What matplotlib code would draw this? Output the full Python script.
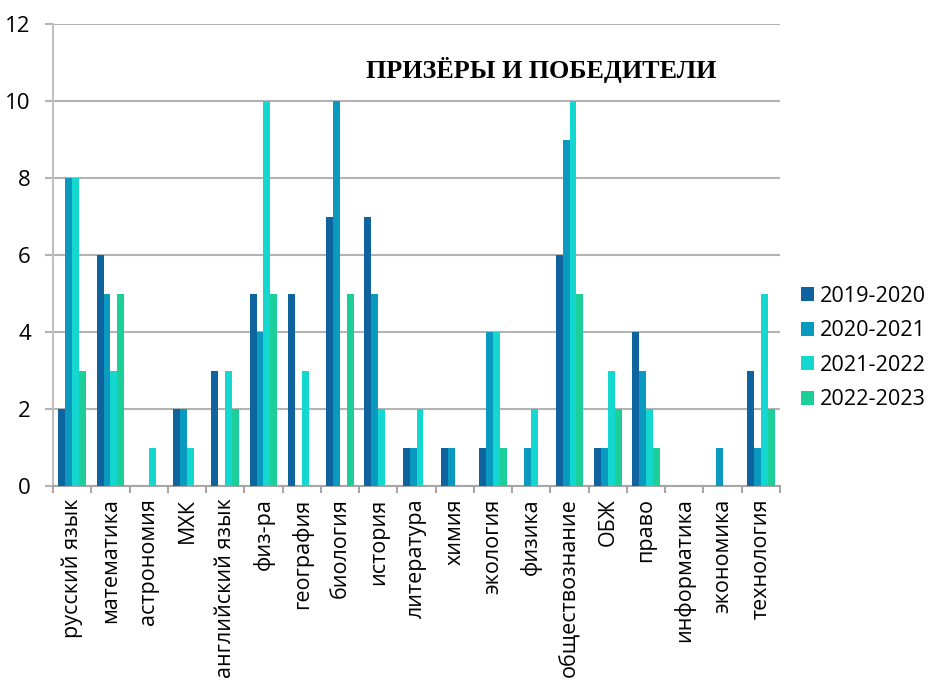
import matplotlib
matplotlib.use("Agg")
import matplotlib.pyplot as plt
import numpy as np

categories = ["русский язык", "математика", "астрономия", "МХК", "английский язык",
              "физ-ра", "география", "биология", "история", "литература", "химия",
              "экология", "физика", "обществознание", "ОБЖ", "право", "информатика",
              "экономика", "технология"]
series_names = ["2019-2020", "2020-2021", "2021-2022", "2022-2023"]
s2019 = [2, 6, 0, 2, 3, 5, 5, 7, 7, 1, 1, 1, 0, 6, 1, 4, 0, 0, 3]
s2020 = [8, 5, 0, 2, 0, 4, 0, 10, 5, 1, 1, 4, 1, 9, 1, 3, 0, 1, 1]
s2021 = [8, 3, 1, 1, 3, 10, 3, 0, 2, 2, 0, 4, 2, 10, 3, 2, 0, 0, 5]
s2022 = [3, 5, 0, 0, 2, 5, 0, 5, 0, 0, 0, 1, 0, 5, 2, 1, 0, 0, 2]
yticks = [0, 2, 4, 6, 8, 10, 12]
title = "ПРИЗЁРЫ И ПОБЕДИТЕЛИ"

colors = ["#0F64A0", "#0A9AC0", "#14D8CF", "#1CCF98"]

W, H = 931, 682
fig = plt.figure(figsize=(W / 100, H / 100), dpi=100)
ax = fig.add_axes([53 / W, (H - 486) / H, (780 - 53) / W, (486 - 24) / H])

x = np.arange(len(categories))
bw = 0.18
for i, (vals, name) in enumerate(zip([s2019, s2020, s2021, s2022], series_names)):
    ax.bar(x + (i - 1.5) * bw, vals, width=bw, color=colors[i], label=name, zorder=3)

ax.set_xlim(-0.5, len(categories) - 0.5)
ax.set_ylim(0, 12)
ax.set_yticks(yticks)
ax.set_yticklabels([str(v) for v in yticks], fontfamily="Open Sans", fontsize=16)
ax.yaxis.grid(True, color="#b3b3b3", linewidth=1.5, zorder=0)
ax.tick_params(axis="y", length=6, width=1.5, color="#b3b3b3", pad=10)

ax.set_xticks(x)
ax.set_xticklabels(categories, rotation=90, fontfamily="Open Sans", fontsize=15.5,
                   va="top", ha="center")
ax.set_xticks(np.arange(len(categories) + 1) - 0.5, minor=True)
ax.tick_params(axis="x", which="major", length=0, pad=9)
ax.tick_params(axis="x", which="minor", length=5, width=1.5, color="#a6a6a6")

for s in ["top", "right"]:
    ax.spines[s].set_visible(False)
ax.spines["left"].set_color("#c0c0c0")
ax.spines["left"].set_linewidth(1.5)
ax.spines["bottom"].set_color("#a6a6a6")
ax.spines["bottom"].set_linewidth(1.5)
ax.set_axisbelow(True)

fig.text(541 / W, 1 - 70 / H, title, fontfamily="Liberation Serif", fontweight="bold",
         fontsize=18.8, ha="center", va="center")

leg = fig.legend(loc="center left", bbox_to_anchor=(801 / W, 1 - 348 / H), frameon=False,
                 prop={"family": "Open Sans", "size": 15.6}, handlelength=0.62,
                 handleheight=0.62, handletextpad=0.25, labelspacing=0.62,
                 borderpad=0, borderaxespad=0)

fig.savefig("out.png", dpi=100)
